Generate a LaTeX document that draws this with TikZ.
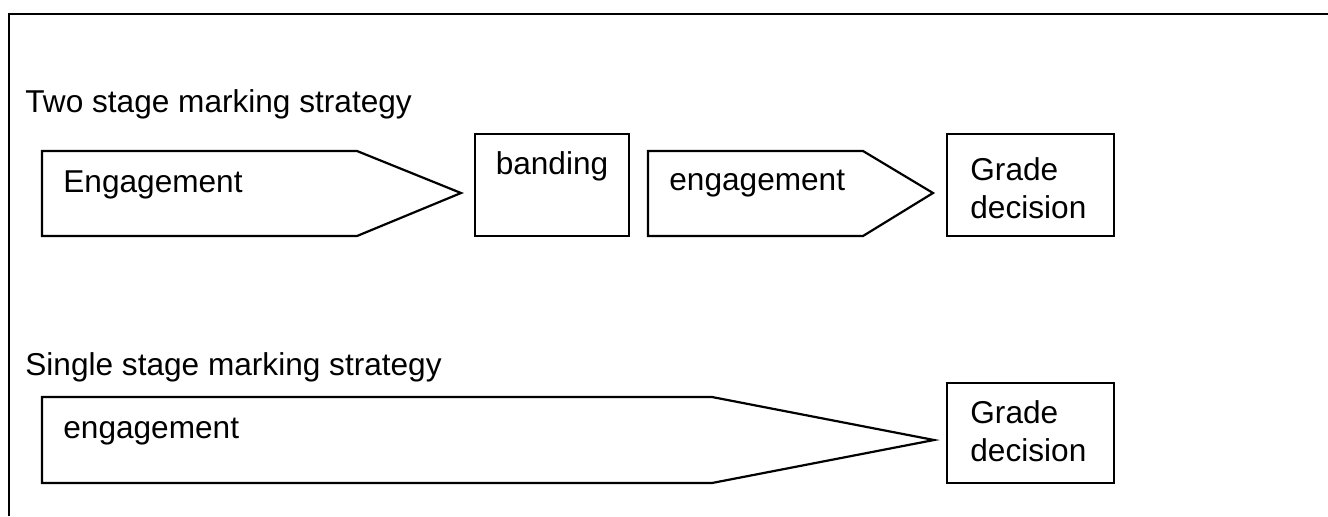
\documentclass[tikz,border=0pt]{standalone}
\usepackage{fontspec}
\setmainfont{Liberation Sans}
\begin{document}
\begin{tikzpicture}[x=0.5pt,y=-0.5pt,
  frameline/.style={line width=1.4pt},
  shapeline/.style={line width=1.1pt, line join=miter},
  lbl/.style={font=\fontsize{15.8pt}{18.75pt}\selectfont, inner sep=0pt, anchor=base west, align=left}]
\useasboundingbox (0,0) rectangle (1328,516);
% outer frame (top and left only)
\coordinate (ftl) at (9,14);
\coordinate (ftr) at (1328,14);
\coordinate (fbl) at (9,516);
\draw[frameline] (fbl) -- (ftl) -- (ftr);
% titles
\node[lbl] (t1) at (25,112) {Two stage marking strategy};
\node[lbl] (t2) at (25,375) {Single stage marking strategy};
% two stage
\draw[shapeline] (42,151) -- (357,151) -- (461,193) -- (357,236) -- (42,236) -- cycle;
\node[lbl] (e1) at (63,192) {Engagement};
\draw[shapeline] (475,134) rectangle (629,236);
\node[lbl, anchor=base] (b1) at (552,174) {banding};
\draw[shapeline] (648,151) -- (863,151) -- (933,193) -- (863,236) -- (648,236) -- cycle;
\node[lbl] (e2) at (669,190) {engagement};
\draw[shapeline] (947,134) rectangle (1114,236);
\node[lbl] (g1) at (970,218) {Grade\\decision};
% single stage
\draw[shapeline] (42,397) -- (712,397) -- (934,440) -- (712,483) -- (42,483) -- cycle;
\node[lbl] (e3) at (63,438) {engagement};
\draw[shapeline] (947,383) rectangle (1114,483);
\node[lbl] (g2) at (970,461) {Grade\\decision};
\end{tikzpicture}
\end{document}
